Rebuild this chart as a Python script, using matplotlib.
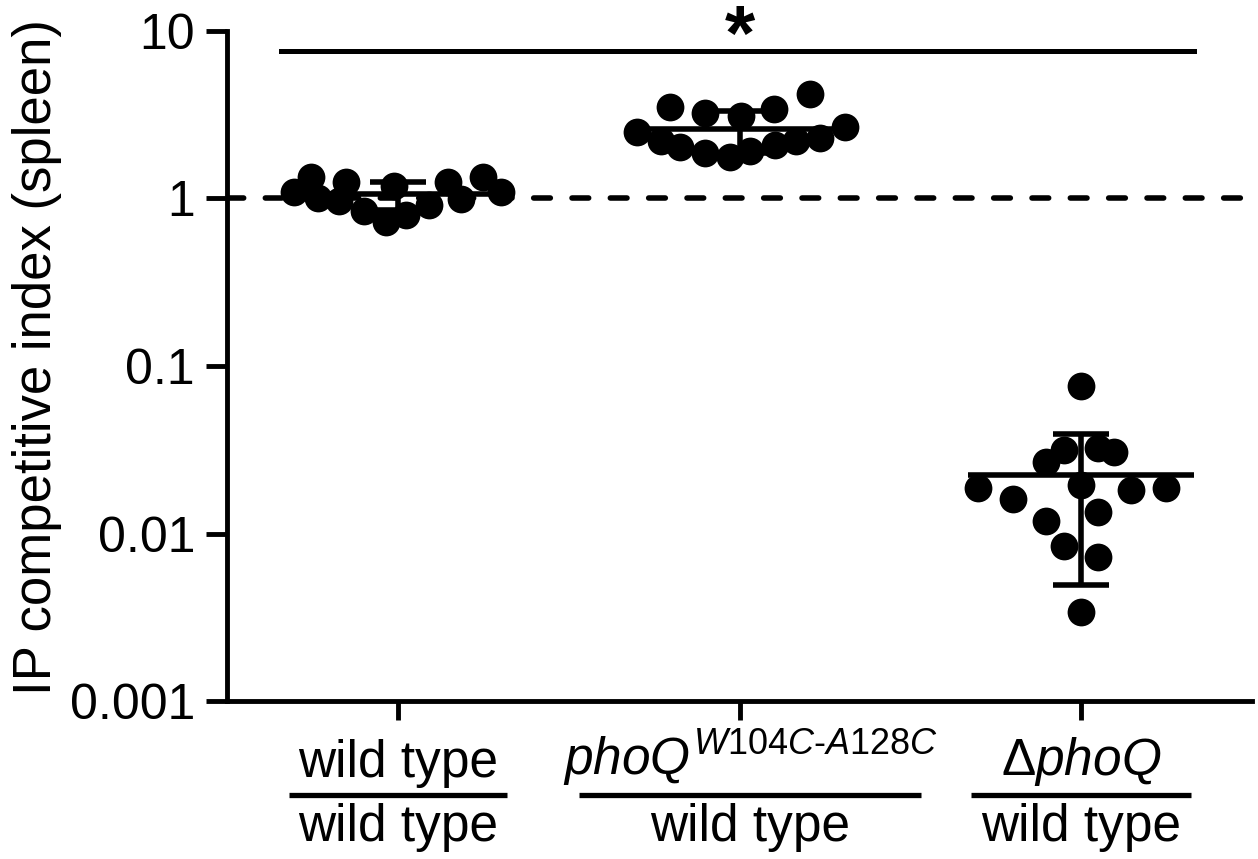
import numpy as np
import matplotlib
matplotlib.use("Agg")
import matplotlib.pyplot as plt
import matplotlib.transforms as mtransforms

plt.rcParams['font.family'] = ['Liberation Sans', 'DejaVu Sans']
plt.rcParams['mathtext.fontset'] = 'custom'
plt.rcParams['mathtext.rm'] = 'Liberation Sans'
plt.rcParams['mathtext.it'] = 'Liberation Sans:italic'
plt.rcParams['mathtext.bf'] = 'Liberation Sans:bold'

# competitive index values, with horizontal scatter offsets
wt_ci = [1.10, 1.35, 1.01, 0.96, 1.26, 0.84, 0.72, 1.18, 0.80, 0.92, 1.25, 0.99, 1.35, 1.10]
wt_jit = [-0.305, -0.255, -0.234, -0.173, -0.152, -0.100, -0.035, -0.012, 0.023, 0.091,
          0.146, 0.184, 0.249, 0.302]

mut_ci = [2.48, 2.19, 3.54, 2.04, 3.26, 1.88, 1.76, 3.09, 1.91, 3.40, 2.10, 2.19, 4.18, 2.31, 2.69]
mut_jit = [-0.299, -0.231, -0.202, -0.173, -0.100, -0.100, -0.029, 0.003, 0.032, 0.102,
           0.105, 0.164, 0.205, 0.237, 0.310]

del_ci = [0.0755, 0.0317, 0.0269, 0.0326, 0.0305, 0.0188, 0.0160, 0.0196, 0.0183, 0.0188,
          0.0118, 0.0135, 0.0084, 0.0072, 0.0034]
del_jit = [0.0, -0.050, -0.102, 0.050, 0.096, -0.302, -0.199, 0.0, 0.146, 0.249,
           -0.102, 0.050, -0.050, 0.050, 0.0]

numerators = ["wild type", r"$\mathit{phoQ}^{\mathit{W104C}\text{-}\mathit{A128C}}$", r"$\Delta\mathit{phoQ}$"]
denominators = ["wild type", "wild type", "wild type"]
label_centers = [0.0, 1.031, 2.0]
frac_halfwidth = [0.32, 0.50, 0.322]

ytick_vals = [0.001, 0.01, 0.1, 1, 10]
ytick_labels = ["0.001", "0.01", "0.1", "1", "10"]

sig_y = 7.55
sig_span = [-0.343, 2.331]

groups = [(wt_ci, wt_jit), (mut_ci, mut_jit), (del_ci, del_jit)]

fig = plt.figure(figsize=(12.58, 8.59), dpi=100)
ax = fig.add_axes([227 / 1258, 158 / 859, 1025 / 1258, 670 / 859])

ax.set_yscale('log')
ax.set_ylim(0.001, 10)
ax.set_xlim(-0.5, 2.5)

ax.axhline(1, color='black', lw=4, ls=(0, (3.0, 3.9)), dash_capstyle='round', zorder=1)

for i, (vals, jit) in enumerate(groups):
    vals = np.array(vals)
    xs = i + np.array(jit)
    ax.plot(xs, vals, 'o', color='black', ms=20, mec='none', zorder=3)
    m = vals.mean()
    sd = vals.std(ddof=1)
    ax.hlines(m, i - 0.33, i + 0.33, color='black', lw=4, zorder=4)
    ax.errorbar(i, m, yerr=sd, color='black', elinewidth=4, capsize=20, capthick=4, zorder=4)

# significance bar
ax.plot(sig_span, [sig_y, sig_y], color='black', lw=3.6, clip_on=False, zorder=4)
ax.text(1, 6.7, "*", ha='center', va='baseline', fontsize=56, fontweight='bold')

ax.set_yticks(ytick_vals)
ax.set_yticklabels(ytick_labels, fontsize=36)
ax.yaxis.set_minor_locator(matplotlib.ticker.NullLocator())
ax.set_xticks([0, 1, 2])
ax.set_xticklabels([])
ax.tick_params(axis='y', length=15, width=3.5, pad=8)
ax.tick_params(axis='x', length=14, width=3.5)

for s in ['top', 'right']:
    ax.spines[s].set_visible(False)
for s in ['left', 'bottom']:
    ax.spines[s].set_linewidth(3.5)

ax.set_ylabel("IP competitive index (spleen)", fontsize=38)
ax.yaxis.set_label_coords(-0.161, 0.513)

# fraction style category labels
trans = mtransforms.blended_transform_factory(ax.transData, ax.transAxes)
for x, num, den, hw in zip(label_centers, numerators, denominators, frac_halfwidth):
    ax.text(x, -0.130, num, transform=trans, ha='center', va='bottom', fontsize=37)
    ax.plot([x - hw, x + hw], [-0.1396, -0.1396], transform=trans, color='black',
            lw=3.8, clip_on=False, solid_capstyle='butt')
    ax.text(x, -0.152, den, transform=trans, ha='center', va='top', fontsize=37)

fig.savefig("out.png", dpi=100)
